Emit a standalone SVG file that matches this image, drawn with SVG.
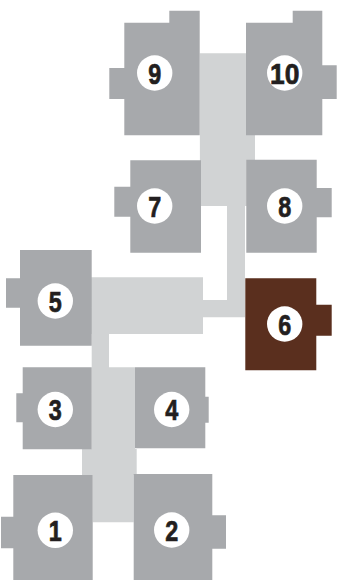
<svg xmlns="http://www.w3.org/2000/svg" width="364" height="580" viewBox="0 0 364 580">
<style>
.u{fill:#a7a9ac}
.b{fill:#5a2f1e}
.c{fill:#d1d3d4}
.d{fill:#fff}
text{font-family:"Liberation Sans",Arial,sans-serif;font-weight:700;font-size:30px;fill:#231f20;stroke:#231f20;stroke-width:.7;text-anchor:middle}
</style>
<rect width="364" height="580" fill="#fff"/>
<g id="connectors">
<path class="c" d="M199.7 53.3H246V135H255V206H245V317.3H203V334H109V367.3H135V449H136.7V475H133.7V522.3H92.7V475H82V449H91.7V334H91V277.3H203V300H227V206H200Z"/>
</g>
<g id="node-9"><path class="u" d="M124.3 22.7H169.3V10.7H199.7V135.3H124.3V99H109.3V68H124.3Z"/><circle class="d" cx="154.7" cy="73" r="17.7"/><text transform="translate(154.7 83.7) scale(.78 1)">9</text></g>
<g id="node-10"><path class="u" d="M246 22.7H292.7V10.7H322.3V65.3H336.7V99H322.3V135.3H246Z"/><circle class="d" cx="284.7" cy="73" r="17.7"/><text transform="translate(284.7 83.7) scale(.88 1)">10</text></g>
<g id="node-7"><path class="u" d="M130.3 160.3H201V252.7H130.3V216.7H114.3V186.7H130.3Z"/><circle class="d" cx="154.7" cy="206" r="17.7"/><text transform="translate(154.7 216.7) scale(.78 1)">7</text></g>
<g id="node-8"><path class="u" d="M246.3 159.7H316.7V188H331.7V217.3H316.7V252.7H246.3Z"/><circle class="d" cx="284.7" cy="206" r="17.7"/><text transform="translate(284.7 216.7) scale(.78 1)">8</text></g>
<g id="node-6"><path class="b" d="M245.3 278.3H316.3V304.7H331.7V335.7H316.3V370.3H245.3Z"/><circle class="d" cx="284.7" cy="324" r="17.7"/><text transform="translate(284.7 334.7) scale(.78 1)">6</text></g>
<g id="node-5"><path class="u" d="M20 250H91.7V345.7H20V307.7H6V278.3H20Z"/><circle class="d" cx="55.3" cy="301" r="17.7"/><text transform="translate(55.3 311.7) scale(.78 1)">5</text></g>
<g id="node-3"><path class="u" d="M22.7 367.3H91.7V449.3H22.7V422.3H16.3V393.3H22.7Z"/><circle class="d" cx="55.3" cy="409.5" r="17.7"/><text transform="translate(55.3 420.2) scale(.78 1)">3</text></g>
<g id="node-4"><path class="u" d="M135 367.3H205.3V396.7H208.7V422.7H205.3V448.3H135Z"/><circle class="d" cx="171.7" cy="409.5" r="17.7"/><text transform="translate(171.7 420.2) scale(.78 1)">4</text></g>
<g id="node-1"><path class="u" d="M13.3 475H92.7V580H13.3V548.3H1V516.7H13.3Z"/><circle class="d" cx="55.3" cy="530.3" r="17.7"/><text transform="translate(55.3 541) scale(.78 1)">1</text></g>
<g id="node-2"><path class="u" d="M133.7 474H212.3V515.3H226V548.7H212.3V580H133.7Z"/><circle class="d" cx="171.7" cy="530" r="17.7"/><text transform="translate(171.7 540.7) scale(.78 1)">2</text></g>
</svg>
